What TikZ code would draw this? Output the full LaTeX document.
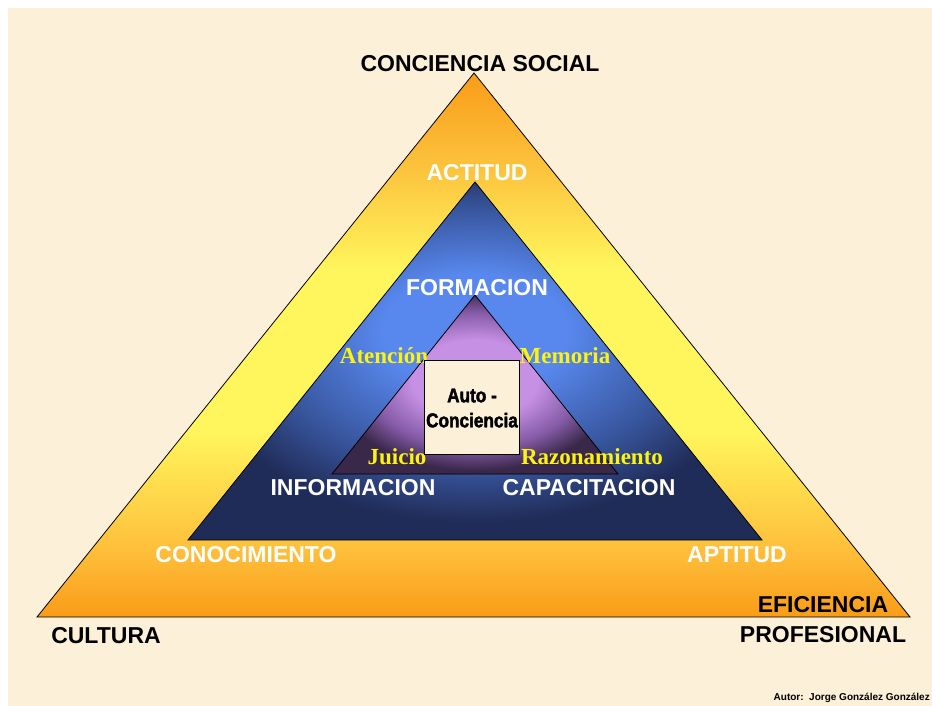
\documentclass[tikz,border=0pt]{standalone}
\usepackage{fontspec}
\setmainfont{Liberation Sans}
\newfontfamily\romanfont{Liberation Serif}
\newfontfamily\narrowfont[FakeStretch=0.86,FakeBold=2]{Liberation Sans}
\usepackage{xcolor}
\usepackage{tikz}
\usetikzlibrary{positioning}

\definecolor{paper}{RGB}{252,240,217}
\definecolor{orng}{RGB}{249,156,24}
\definecolor{lightorng}{RGB}{254,190,58}
\definecolor{gold}{RGB}{252,196,62}
\definecolor{yell}{RGB}{255,245,92}
\definecolor{navy}{RGB}{32,44,88}
\definecolor{midblue}{RGB}{56,86,158}
\definecolor{skyblue}{RGB}{88,136,238}
\definecolor{plum}{RGB}{58,40,74}
\definecolor{mauve}{RGB}{132,90,166}
\definecolor{lilac}{RGB}{198,144,228}
\definecolor{lemon}{RGB}{252,244,16}

% bottom (25bp) to apex (75bp)
\pgfdeclareverticalshading{sunfade}{100bp}{color(0bp)=(orng); color(25bp)=(orng);
  color(31bp)=(lightorng); color(42bp)=(yell); color(57bp)=(yell);
  color(66bp)=(gold); color(75bp)=(orng); color(100bp)=(orng)}
\pgfdeclareradialshading{bluefade}{\pgfpoint{0bp}{5bp}}{color(0bp)=(skyblue);
  color(8bp)=(skyblue); color(18bp)=(midblue); color(25bp)=(navy); color(50bp)=(navy)}
\pgfdeclareradialshading{plumfade}{\pgfpoint{0bp}{2bp}}{color(0bp)=(lilac);
  color(11bp)=(lilac); color(19bp)=(mauve); color(25bp)=(plum); color(50bp)=(plum)}

\tikzset{
  capword/.style={font=\fontsize{23}{27}\selectfont\bfseries, anchor=base, inner sep=0pt},
  darkword/.style={capword, text=black},
  lightword/.style={capword, text=white},
  skillword/.style={font=\romanfont\fontsize{23}{27}\selectfont\bfseries, text=lemon,
    anchor=base, inner sep=0pt},
  layer/.style={draw=black, line width=0.8pt, line join=miter},
}

\begin{document}
\begin{tikzpicture}[x=1pt, y=-1pt]
    \useasboundingbox (0,0) rectangle (932,706);
    \fill[paper] (8,8) rectangle (932,706);

    % corners of the three triangles
    \coordinate (outerTop) at (474,73);
    \coordinate (outerL) at (37,617);
    \coordinate (outerR) at (910,617);
    \coordinate (midTop) at (475,182);
    \coordinate (midL) at (188,540);
    \coordinate (midR) at (762,540);
    \coordinate (inTop) at (475,295);
    \coordinate (inL) at (332,474);
    \coordinate (inR) at (618,474);

    \shade[shading=sunfade, layer] (outerTop) -- (outerR) -- (outerL) -- cycle;
    \shade[shading=bluefade, layer] (midTop) -- (midR) -- (midL) -- cycle;
    \shade[shading=plumfade, layer] (inTop) -- (inR) -- (inL) -- cycle;

    % outer labels
    \node[darkword] (social) at (480,72) {CONCIENCIA SOCIAL};
    \node[darkword] (cultura) at (106,643) {CULTURA};
    \node[darkword] (eficiencia) at (823,612) {EFICIENCIA};
    \node[darkword] (profesional) at (823,642) {PROFESIONAL};

    \node[lightword] (actitud) at (477,181) {ACTITUD};
    \node[lightword] (conocimiento) at (246,562) {CONOCIMIENTO};
    \node[lightword] (aptitud) at (737,562) {APTITUD};

    \node[lightword] (formacion) at (477,295) {FORMACION};
    \node[lightword] (informacion) at (353,495) {INFORMACION};
    \node[lightword] (capacitacion) at (589,495) {CAPACITACION};

    \node[skillword] (atencion) at (384,363) {Atención};
    \node[skillword] (memoria) at (565,363) {Memoria};
    \node[skillword] (juicio) at (397,464) {Juicio};
    \node[skillword] (razonamiento) at (592,464) {Razonamiento};

    % centre box
    \node[draw=black, line width=0.8pt, fill=paper, minimum width=95, minimum height=94]
      (selfbox) at (471.5,407) {};
    \node[font=\narrowfont\bfseries\fontsize{20}{25}\selectfont, align=center, inner sep=0pt]
      (selftext) at (472,408) {Auto -\\Conciencia};

    \node[font=\fontsize{10}{12}\selectfont\bfseries, anchor=base east, inner sep=0pt]
      (autor) at (930,700) {Autor:\ \ Jorge González González};
\end{tikzpicture}
\end{document}
